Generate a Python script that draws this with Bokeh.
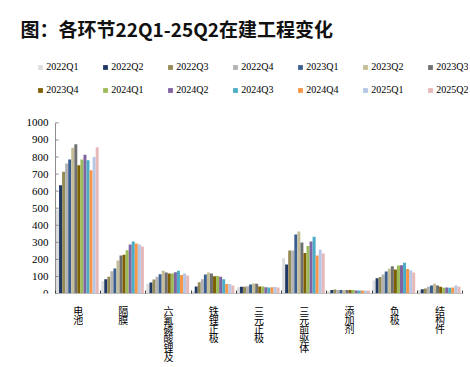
from bokeh.plotting import figure
from bokeh.models import Range1d, FixedTicker
from bokeh.core.properties import value
from bokeh.embed import file_html
from bokeh.resources import INLINE

categories = ["电池", "隔膜", "六氟磷酸锂及", "铁锂正极", "三元正极", "三元前驱体", "添加剂", "负极", "结构件"]
quarters = ["2022Q1", "2022Q2", "2022Q3", "2022Q4", "2023Q1", "2023Q2", "2023Q3",
            "2023Q4", "2024Q1", "2024Q2", "2024Q3", "2024Q4", "2025Q1", "2025Q2"]
colors = ["#DDDDDD", "#1F3864", "#948A54", "#B2B2B2", "#3B5E91", "#C4BD97", "#707070",
          "#7F6000", "#9BBB59", "#8064A2", "#4BACC6", "#F79646", "#B4C7E7", "#E6B9B8"]

battery = [492, 635, 713, 762, 785, 855, 875, 752, 785, 814, 781, 722, 800, 857]
separator = [72, 84, 98, 131, 146, 193, 223, 227, 254, 287, 305, 293, 287, 275]
lipf6 = [57, 64, 82, 98, 113, 133, 123, 117, 117, 125, 133, 109, 117, 105]
lfp_cathode = [14, 41, 66, 84, 111, 123, 117, 101, 103, 98, 84, 55, 55, 47]
ternary_cathode = [37, 39, 39, 43, 53, 59, 57, 41, 41, 37, 35, 37, 39, 35]
ternary_precursor = [207, 170, 252, 252, 346, 363, 299, 238, 279, 305, 332, 223, 256, 234]
additive = [14, 20, 23, 20, 20, 21, 21, 21, 20, 18, 18, 18, 18, 18]
anode = [76, 90, 96, 111, 129, 145, 160, 141, 164, 166, 180, 143, 137, 123]
structural = [20, 25, 29, 39, 47, 57, 47, 39, 33, 35, 33, 35, 47, 39]

y_ticks = [0, 100, 200, 300, 400, 500, 600, 700, 800, 900, 1000]

groups = [battery, separator, lipf6, lfp_cathode, ternary_cathode,
          ternary_precursor, additive, anode, structural]

n_cat = len(categories)
group_start = 0.01
bar_w = 0.0675
cat_px = 45.2          # pixel width of one category
axis_x = 0.5           # data x of the value axis
y_max = max(y_ticks)

# frame spans x 20..468 and y 45..293 px; the value axis sits at x=55 px
x_start = axis_x - 35 / cat_px
x_end = n_cat + 0.5 + 6 / cat_px
p = figure(width=468, height=367, output_backend="svg", toolbar_location=None,
           x_range=Range1d(x_start, x_end), y_range=Range1d(0, 248 / 170.6 * y_max),
           min_border_left=20, min_border_right=0, min_border_top=45,
           min_border_bottom=74)

for j, q in enumerate(quarters):
    xs = [i + 1 - 0.5 + group_start + (j + 0.5) * bar_w for i in range(n_cat)]
    tops = [g[j] for g in groups]
    p.vbar(x=xs, top=tops, width=bar_w * 0.98, color=colors[j], line_width=0,
           legend_label=q)

# value axis drawn with the plot's own scales
axis_color = "#8C8C8C"
p.segment(x0=[axis_x], y0=[0], x1=[axis_x], y1=[y_max], line_color=axis_color, line_width=1)
p.segment(x0=[axis_x] * len(y_ticks), y0=y_ticks,
          x1=[axis_x + 3 / cat_px] * len(y_ticks), y1=y_ticks,
          line_color=axis_color, line_width=1)
p.text(x=[axis_x] * len(y_ticks), y=y_ticks, text=[str(v) for v in y_ticks],
       x_offset=-7, text_align="right", text_baseline="middle",
       text_font=value("Liberation Serif"), text_font_size="11px", text_color="#000000")
# category baseline
p.segment(x0=[axis_x], y0=[0], x1=[n_cat + 0.5], y1=[0], line_color=axis_color, line_width=1)

p.yaxis.visible = False

p.title.text = "图：各环节22Q1-25Q2在建工程变化"
p.title.text_font = "Noto Sans CJK SC"
p.title.text_font_style = "bold"
p.title.text_font_size = "19px"
p.title.text_color = "#111111"
p.title.offset = 0
p.title.standoff = 8

p.outline_line_color = None
p.grid.visible = False
p.background_fill_color = "white"
p.border_fill_color = "white"

xa = p.xaxis[0]
xa.ticker = FixedTicker(ticks=list(range(1, n_cat + 1)),
                        minor_ticks=[i + 0.5 for i in range(n_cat + 1)])
xa.major_label_overrides = {i + 1: "\n".join(c) for i, c in enumerate(categories)}
xa.major_tick_in = 0
xa.major_tick_out = 0
xa.minor_tick_in = 3
xa.minor_tick_out = 0
xa.minor_tick_line_color = "#404040"
xa.axis_line_color = None
xa.major_label_text_font = "Noto Sans CJK SC"
xa.major_label_text_font_size = "10px"
xa.major_label_text_line_height = 0.62
xa.major_label_text_color = "#000000"
xa.major_label_standoff = 9

lg = p.legend[0]
lg.orientation = "horizontal"
lg.nrows = 2
lg.ncols = 7
lg.location = (17.2, 193.3)
lg.glyph_width = 6
lg.glyph_height = 6
lg.label_standoff = 3
lg.label_width = 53
lg.label_height = 20
lg.spacing = 3
lg.padding = 0
lg.margin = 0
lg.border_line_color = None
lg.background_fill_alpha = 0
lg.label_text_font = "Liberation Serif"
lg.label_text_font_size = "10px"
lg.label_text_color = "#000000"

open("out.html", "w").write(file_html(p, INLINE))
